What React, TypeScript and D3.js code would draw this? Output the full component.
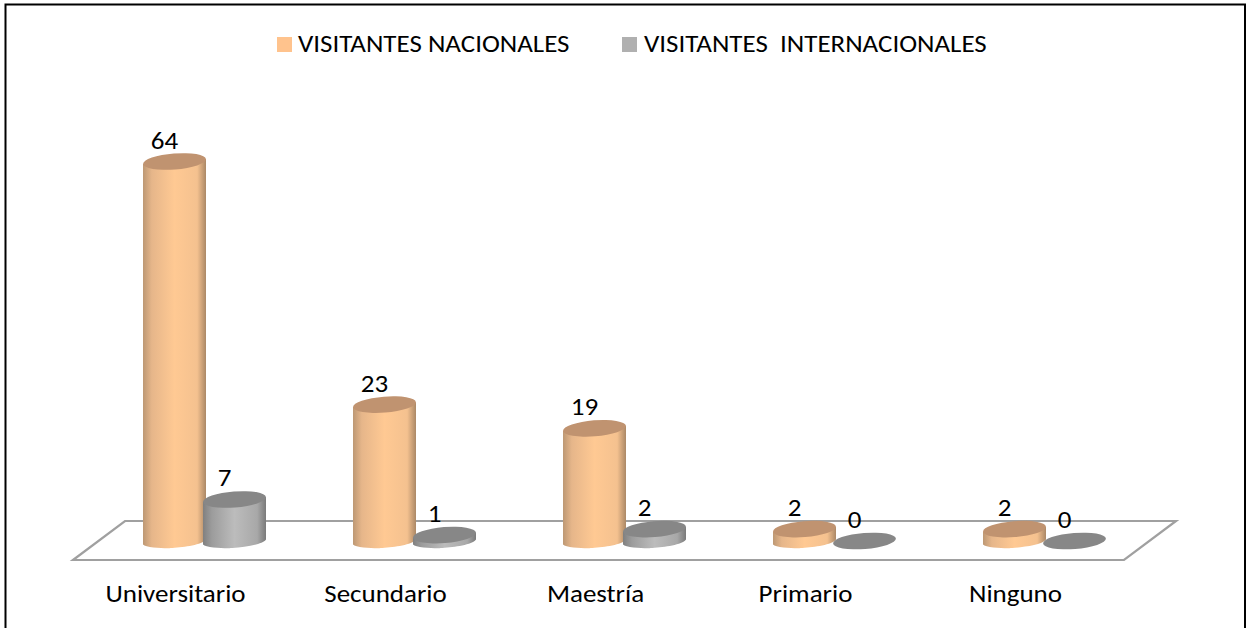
import React from "react";
import * as d3 from "d3";

const categories = ["Universitario", "Secundario", "Maestría", "Primario", "Ninguno"];
const nacionales = [64, 23, 19, 2, 2];
const internacionales = [7, 1, 2, 0, 0];
const seriesNames = ["VISITANTES NACIONALES", "VISITANTES  INTERNACIONALES"];

const FONT = "Carlito, Calibri, 'Open Sans', 'Noto Sans', sans-serif";

const x = d3.scalePoint<string>().domain(categories).range([174.5, 1014.5]);
const y = d3.scaleLinear().domain([0, 64]).range([541, 161.5]);
const RX = 31.5, RY = 8, TILT = -4.5;
const OFFSET = 60;
const STRETCH = 1.08;

function Label({ px, py, anchor = "middle", children }: { px: number; py: number; anchor?: string; children: React.ReactNode }) {
  return (
    <text
      transform={`translate(${px} ${py}) scale(${STRETCH} 1)`}
      fontSize={25}
      textAnchor={anchor}
      fill="#000"
      style={{ whiteSpace: "pre" }}
    >
      {children}
    </text>
  );
}

function Cylinder({ cx, value, grad, top }: { cx: number; value: number; grad: string; top: string }) {
  const yt = y(value), yb = y(0);
  const rad = (TILT * Math.PI) / 180;
  const dy = RX * Math.sin(rad);
  const path = d3.path();
  if (value > 0) {
    path.moveTo(cx - RX, yt - dy);
    path.lineTo(cx - RX, yb - dy + 1);
    path.bezierCurveTo(cx - RX + 3, yb + 7, cx - 6, yb + 7.5, cx - 2, yb + 7);
    path.bezierCurveTo(cx + 10, yb + 6, cx + RX - 4, yb + 4, cx + RX, yb + dy + 1);
    path.lineTo(cx + RX, yt + dy);
    path.closePath();
  }
  return (
    <g>
      {value > 0 && <path d={path.toString()} fill={`url(#${grad})`} />}
      <ellipse cx={cx} cy={yt} rx={RX} ry={RY} fill={top} transform={`rotate(${TILT} ${cx} ${yt})`} />
    </g>
  );
}

function Grad({ id, stops }: { id: string; stops: string[] }) {
  return (
    <linearGradient id={id} x1="0" x2="1" y1="0" y2="0">
      {stops.map((c, i) => (
        <stop key={i} offset={`${[0, 14, 50, 86, 100][i]}%`} stopColor={c} />
      ))}
    </linearGradient>
  );
}

export default function App() {
  return (
    <svg
      width={1248}
      height={628}
      style={{ position: "absolute", left: 0, top: 0, background: "#fff" }}
      fontFamily={FONT}
    >
      <defs>
        <Grad id="gO" stops={["#bd9874", "#e6b68a", "#ffc993", "#f4c18f", "#ab8866"]} />
        <Grad id="gG" stops={["#808080", "#9c9c9c", "#bcbcbc", "#a8a8a8", "#7a7a7a"]} />
      </defs>
      <rect x={5.5} y={4.5} width={1239.5} height={640} fill="none" stroke="#000" strokeWidth={2} />

      <polygon points="73,560 125,521 1176,521 1124,560" fill="none" stroke="#a0a0a0" strokeWidth={2.2} />

      {categories.map((c, i) => {
        const cx = x(c)!;
        return (
          <g key={c}>
            <Cylinder cx={cx} value={nacionales[i]} grad="gO" top="#c09370" />
            <Cylinder cx={cx + OFFSET} value={internacionales[i]} grad="gG" top="#878787" />
            <Label px={cx - 10} py={y(nacionales[i]) - 13}>{nacionales[i]}</Label>
            <Label px={cx + OFFSET - 10} py={y(internacionales[i]) - 13}>{internacionales[i]}</Label>
            <Label px={cx + 1} py={602}>{c}</Label>
          </g>
        );
      })}

      <rect x={277} y={37} width={15} height={15} fill="#ffc38d" />
      <Label px={298} py={52} anchor="start">{seriesNames[0]}</Label>
      <rect x={622} y={37} width={15} height={15} fill="#b0b0b0" />
      <Label px={644} py={52} anchor="start">{seriesNames[1]}</Label>
    </svg>
  );
}
